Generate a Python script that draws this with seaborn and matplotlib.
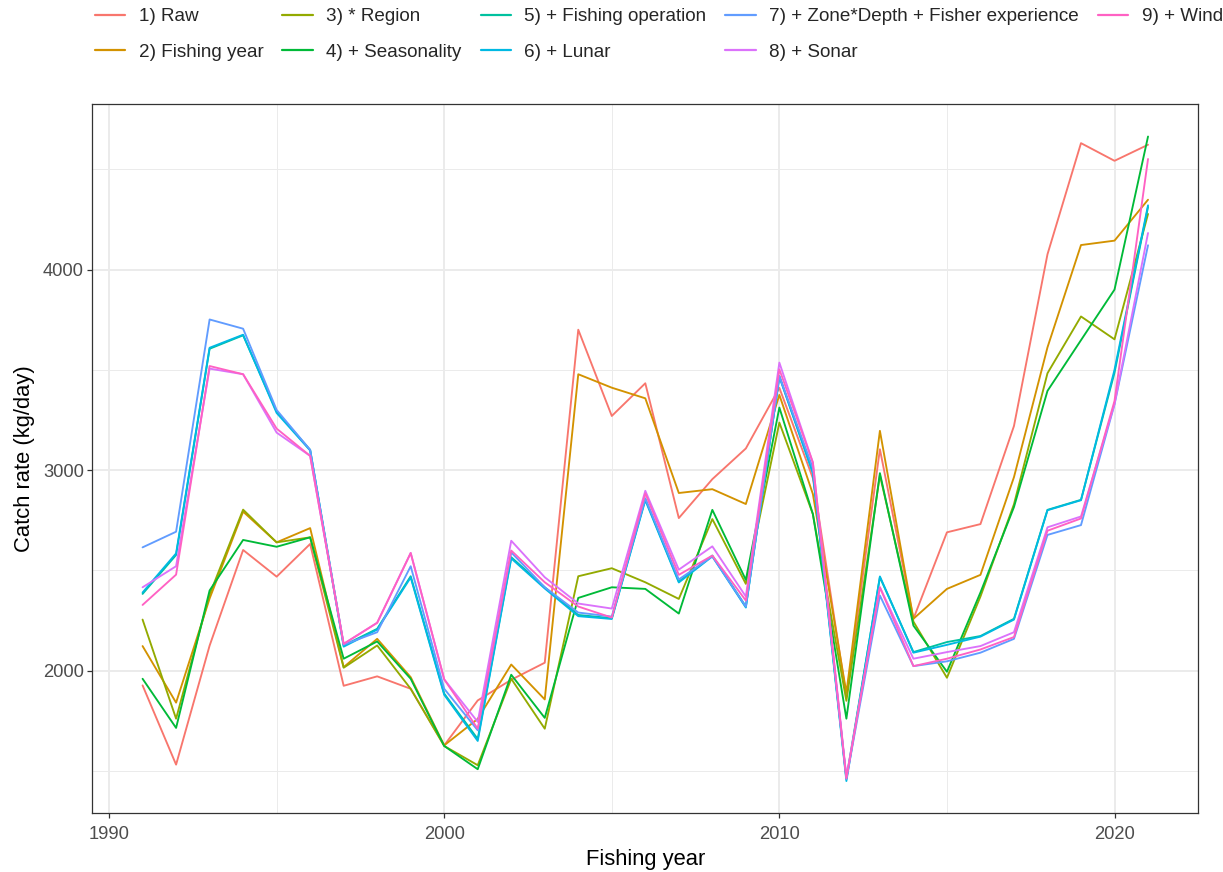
import matplotlib
matplotlib.use("Agg")
import matplotlib.pyplot as plt
from matplotlib.lines import Line2D
import numpy as np
import pandas as pd
import seaborn as sns

years = list(range(1991, 2022))

raw = [1927, 1532, 2125, 2602, 2469, 2632, 1925, 1972, 1910, 1628, 1852, 1955, 2040,
       3700, 3270, 3433, 2761, 2955, 3108, 3410, 2960, 1870, 3104, 2259, 2690, 2731,
       3220, 4076, 4630, 4542, 4622]
fishing_year = [2123, 1841, 2360, 2793, 2640, 2711, 2018, 2159, 1968, 1628, 1760, 2031,
                1857, 3478, 3411, 3358, 2886, 2905, 2831, 3375, 2881, 1890, 3196, 2259,
                2408, 2478, 2965, 3612, 4122, 4144, 4348]
region = [2255, 1761, 2380, 2803, 2640, 2665, 2015, 2126, 1910, 1625, 1529, 1960, 1711,
          2471, 2511, 2441, 2358, 2756, 2433, 3237, 2781, 1850, 2975, 2245, 1965, 2370,
          2830, 3483, 3766, 3652, 4277]
seasonality = [1960, 1715, 2400, 2652, 2618, 2665, 2060, 2146, 1960, 1625, 1509, 1980,
               1765, 2363, 2416, 2408, 2285, 2802, 2453, 3312, 2781, 1761, 2985, 2225,
               1995, 2390, 2816, 3395, 3648, 3900, 4663]
fishing_operation = [2383, 2577, 3605, 3672, 3292, 3101, 2126, 2209, 2471, 1886, 1660,
                     2566, 2416, 2278, 2262, 2856, 2444, 2574, 2320, 3469, 2988, 1463,
                     2466, 2093, 2143, 2173, 2259, 2802, 2852, 3486, 4312]
lunar = [2390, 2585, 3610, 3675, 3285, 3098, 2120, 2205, 2465, 1880, 1650, 2560, 2410,
         2272, 2258, 2850, 2440, 2570, 2315, 3465, 2985, 1450, 2470, 2090, 2129, 2170,
         2255, 2800, 2850, 3500, 4320]
zone_depth_experience = [2615, 2693, 3751, 3705, 3300, 3101, 2130, 2192, 2521, 1910, 1703,
                         2590, 2416, 2290, 2270, 2860, 2455, 2570, 2320, 3469, 3010, 1460,
                         2375, 2023, 2047, 2090, 2159, 2677, 2726, 3328, 4121]
sonar = [2416, 2521, 3506, 3478, 3187, 3071, 2134, 2239, 2587, 1957, 1745, 2648, 2466,
         2335, 2310, 2897, 2504, 2620, 2370, 3536, 3038, 1470, 2416, 2060, 2093, 2123,
         2192, 2715, 2769, 3330, 4182]
wind = [2328, 2479, 3519, 3478, 3207, 3071, 2134, 2239, 2587, 1957, 1711, 2599, 2441,
        2320, 2265, 2884, 2478, 2574, 2350, 3502, 3038, 1463, 2416, 2023, 2060, 2106,
        2168, 2698, 2759, 3345, 4551]

model_names = ["1) Raw", "2) Fishing year", "3) * Region", "4) + Seasonality",
               "5) + Fishing operation", "6) + Lunar",
               "7) + Zone*Depth + Fisher experience", "8) + Sonar", "9) + Wind"]
model_values = [raw, fishing_year, region, seasonality, fishing_operation, lunar,
                zone_depth_experience, sonar, wind]
palette = ["#F8766D", "#D39200", "#93AA00", "#00BA38", "#00C19F", "#00B9E3",
           "#619CFF", "#DB72FB", "#FF61C3"]

df = pd.DataFrame({
    "Fishing year": years * len(model_names),
    "Catch rate": [v for vals in model_values for v in vals],
    "Model": [name for name in model_names for _ in years],
})

sns.set_theme(style="white")
plt.rcParams["font.family"] = ["Liberation Sans", "DejaVu Sans"]

W, H = 1223, 872
fig = plt.figure(figsize=(W / 100, H / 100), dpi=100)
left, right, top, bottom = 92.3, 1198.3, 104.3, 813.3
ax = fig.add_axes([left / W, 1 - bottom / H, (right - left) / W, (bottom - top) / H])

sns.lineplot(data=df, x="Fishing year", y="Catch rate", hue="Model",
             hue_order=model_names, palette=palette, linewidth=1.35,
             estimator=None, sort=False, legend=False, ax=ax)

# ggplot-style 5% expansion of the data range
ymin, ymax = df["Catch rate"].min(), df["Catch rate"].max()
ypad = 0.05 * (ymax - ymin)
ax.set_ylim(ymin - ypad, ymax + ypad)
xpad = 0.05 * (years[-1] - years[0])
ax.set_xlim(years[0] - xpad, years[-1] + xpad)

ax.set_xticks([1990, 2000, 2010, 2020])
ax.set_xticks([1995, 2005, 2015], minor=True)
ax.set_yticks([2000, 3000, 4000])
ax.set_yticks([1500, 2500, 3500, 4500], minor=True)
ax.grid(which="major", color="#EBEBEB", linewidth=1.4)
ax.grid(which="minor", color="#EBEBEB", linewidth=0.7)
ax.set_axisbelow(True)

for sp in ax.spines.values():
    sp.set_visible(True)
    sp.set_color("#333333")
    sp.set_linewidth(0.9)

ax.tick_params(which="major", length=3.5, width=0.9, color="#333333",
               labelcolor="#4D4D4D", labelsize=13.2, pad=2.5,
               bottom=True, left=True)
ax.tick_params(axis="x", which="major", pad=5.5)
ax.tick_params(which="minor", length=0)

ax.set_xlabel("Fishing year", fontsize=15.8, color="black", labelpad=4.5)
ax.set_ylabel("Catch rate (kg/day)", fontsize=15.8, color="black", labelpad=6)

handles = [Line2D([0], [0], color=c, linewidth=1.6) for c in palette]
fig.legend(handles, model_names, loc="upper left",
           bbox_to_anchor=(95 / W, 1 - 8 / H), ncol=5, frameon=False,
           fontsize=13.6, handlelength=1.6, handletextpad=0.72,
           columnspacing=1.0, labelspacing=0.98, borderaxespad=0, borderpad=0)

fig.savefig("out.png", dpi=100)
